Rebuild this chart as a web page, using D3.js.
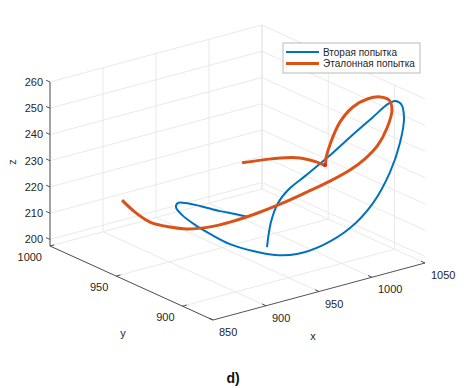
<!DOCTYPE html>
<html lang="ru">
<head>
<meta charset="UTF-8">
<title>3D траектории</title>
<script src="https://cdn.jsdelivr.net/npm/d3@7/dist/d3.min.js"></script>
<style>
  html, body { margin: 0; padding: 0; background: #fff; }
  svg { display: block; font-family: "Liberation Sans", Arial, sans-serif; }
</style>
</head>
<body>
<svg width="468" height="388"></svg>
<script>
// ---- данные ----
var xTicks = [850, 900, 950, 1000, 1050];
var yTicks = [900, 950, 1000];
var zTicks = [200, 210, 220, 230, 240, 250, 260];
var xLim = [850, 1050], yLim = [877, 1000], zLim = [197.5, 260];

// Вторая попытка
var blueX = [968.0, 962.0, 954.2, 941.5, 931.1, 927.0, 925.1, 927.0, 930.6, 932.2, 934.8, 939.0, 943.5, 951.8, 965.0, 983.0,
             1002.2, 1019.5, 1032.6, 1042.7, 1046.1, 1045.5, 1043.9, 1035.0, 1020.5, 1004.7, 986.8, 974.2, 965.1, 959.7, 957.2];
var blueY = [945, 950, 955, 960, 963, 965, 965, 962, 955, 945, 932, 918, 905, 895, 886, 880,
             878, 879, 882, 887, 892, 896, 900, 905, 910, 914, 917, 919, 920, 921, 922];
var blueZ = [208.4, 209.0, 209.8, 212.0, 213.6, 213.6, 212.2, 209.7, 207.1, 205.8, 204.6, 204.7, 205.7, 207.5, 211.5, 217.4,
             225.3, 235.0, 244.0, 251.3, 255.1, 255.4, 253.5, 248.0, 241.1, 234.3, 228.3, 224.3, 219.7, 212.8, 203.3];

// Эталонная попытка
var refX = [899.2, 905.2, 909.3, 915.7, 919.2, 925.9, 932.3, 943.4, 957.0, 965.6, 980.4, 993.0, 1003.4, 1013.2, 1020.4,
            1035.1, 1038.6, 1036.3, 1031.2, 1023.3, 1017.4, 1012.5, 1010.4, 1011.9, 1008.1, 998.3, 985.8, 975.9, 962.4];
var refY = [985, 980, 972, 962, 952, 940, 930, 920, 912, 900, 893, 888, 885, 883, 882,
            890, 895, 900, 905, 910, 915, 918, 920, 922, 925, 930, 935, 940, 945];
var refZ = [213.1, 209.0, 206.6, 206.3, 207.5, 210.3, 213.7, 217.9, 222.0, 228.1, 232.6, 236.6, 240.4, 245.1, 251.0,
            254.4, 256.7, 257.0, 255.7, 252.3, 246.1, 238.3, 232.0, 228.7, 229.5, 231.0, 231.2, 230.4, 229.6];
var markIdx = 23;

var legendNames = ["Вторая попытка", "Эталонная попытка"];
var colors = ["#0072BD", "#D95319"];

// ---- проекция (ортографическая, как в plot3) ----
var svg = d3.select("svg");
var origin = [213, 320];           // x=850, y=ymin, z=zmin
var ex = [212, -57], ey = [-163, -74], ez = [0, -164];

var xs = d3.scaleLinear().domain(xLim).range([0, 1]);
var ys = d3.scaleLinear().domain(yLim).range([0, 1]);
var zs = d3.scaleLinear().domain(zLim).range([0, 1]);

function proj(x, y, z) {
  var u = xs(x), v = ys(y), w = zs(z);
  return [origin[0] + u * ex[0] + v * ey[0] + w * ez[0],
          origin[1] + u * ex[1] + v * ey[1] + w * ez[1]];
}
function seg(g, a, b) {
  g.append("line").attr("x1", a[0]).attr("y1", a[1]).attr("x2", b[0]).attr("y2", b[1]);
}

// сетка
var grid = svg.append("g").attr("stroke", "#e3e3e3").attr("stroke-width", 0.8);
xTicks.forEach(function(t) {
  seg(grid, proj(t, yLim[0], zLim[0]), proj(t, yLim[1], zLim[0]));   // пол
  seg(grid, proj(t, yLim[1], zLim[0]), proj(t, yLim[1], zLim[1]));   // задняя стенка
});
yTicks.forEach(function(t) {
  seg(grid, proj(xLim[0], t, zLim[0]), proj(xLim[1], t, zLim[0]));
  seg(grid, proj(xLim[1], t, zLim[0]), proj(xLim[1], t, zLim[1]));
});
zTicks.forEach(function(t) {
  seg(grid, proj(xLim[0], yLim[1], t), proj(xLim[1], yLim[1], t));
  seg(grid, proj(xLim[1], yLim[1], t), proj(xLim[1], yLim[0], t));
});

// оси
var ax = svg.append("g").attr("stroke", "#404040").attr("stroke-width", 0.9);
seg(ax, proj(xLim[0], yLim[0], zLim[0]), proj(xLim[1], yLim[0], zLim[0]));
seg(ax, proj(xLim[0], yLim[0], zLim[0]), proj(xLim[0], yLim[1], zLim[0]));
seg(ax, proj(xLim[0], yLim[1], zLim[0]), proj(xLim[0], yLim[1], zLim[1]));

var lab = svg.append("g").attr("fill", "#262626").attr("font-size", 11);
xTicks.forEach(function(t) {
  var p = proj(t, yLim[0], zLim[0]), q = proj(t, yLim[0] + 3, zLim[0]);
  seg(ax, p, q);
  lab.append("text").attr("x", p[0] + 6).attr("y", p[1] + 16).text(t);
});
yTicks.forEach(function(t) {
  var p = proj(xLim[0], t, zLim[0]), q = proj(xLim[0] + 4, t, zLim[0]);
  seg(ax, p, q);
  lab.append("text").attr("x", p[0] - 8).attr("y", p[1] + 15).attr("text-anchor", "end").text(t);
});
zTicks.forEach(function(t) {
  var p = proj(xLim[0], yLim[1], t), q = proj(xLim[0], yLim[1] + 3, t);
  seg(ax, p, q);
  lab.append("text").attr("x", p[0] - 7).attr("y", p[1] + 4).attr("text-anchor", "end").text(t);
});
lab.append("text").attr("x", 313).attr("y", 340).attr("text-anchor", "middle").text("x");
lab.append("text").attr("x", 123).attr("y", 337).attr("text-anchor", "middle").text("y");
lab.append("text").attr("transform", "translate(16,162) rotate(-90)").attr("text-anchor", "middle").text("z");

// кривые
var line = d3.line().curve(d3.curveCatmullRom.alpha(0.5));
var blue = blueX.map(function(d, i) { return proj(d, blueY[i], blueZ[i]); });
var ref = refX.map(function(d, i) { return proj(d, refY[i], refZ[i]); });
svg.append("path").attr("d", line(blue)).attr("fill", "none")
  .attr("stroke", colors[0]).attr("stroke-width", 2);
svg.append("path").attr("d", line(ref)).attr("fill", "none")
  .attr("stroke", colors[1]).attr("stroke-width", 3);
svg.append("circle").attr("cx", ref[markIdx][0]).attr("cy", ref[markIdx][1]).attr("r", 2.2)
  .attr("fill", "#e8262b");

// легенда
var lg = svg.append("g").attr("transform", "translate(283,43)");
lg.append("rect").attr("width", 137).attr("height", 30).attr("fill", "#fff")
  .attr("stroke", "#a8a8a8").attr("stroke-width", 0.8);
legendNames.forEach(function(n, i) {
  var yy = 9 + i * 11.5;
  lg.append("line").attr("x1", 3).attr("x2", 36).attr("y1", yy).attr("y2", yy)
    .attr("stroke", colors[i]).attr("stroke-width", i ? 3 : 2);
  lg.append("text").attr("x", 40).attr("y", yy + 3.5).attr("font-size", 10)
    .attr("fill", "#262626").text(n);
});

svg.append("text").attr("x", 233).attr("y", 383).attr("text-anchor", "middle")
  .attr("font-size", 14).attr("font-weight", "bold").attr("fill", "#111").text("d)");
</script>
</body>
</html>
